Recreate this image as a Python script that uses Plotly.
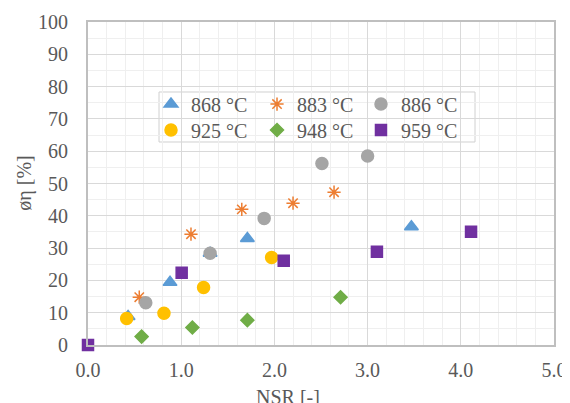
import plotly.graph_objects as go

x_868 = [0.43, 0.88, 1.31, 1.71, 3.47]
y_868 = [8.8, 19.4, 28.4, 33.0, 36.6]
x_883 = [0.55, 1.105, 1.65, 2.20, 2.64]
y_883 = [14.8, 34.3, 42.0, 43.9, 47.3]
x_886 = [0.62, 1.31, 1.89, 2.51, 3.00]
y_886 = [13.1, 28.4, 39.2, 56.2, 58.5]
x_925 = [0.415, 0.815, 1.24, 1.97]
y_925 = [8.2, 9.8, 17.8, 27.1]
x_948 = [0.575, 1.12, 1.71, 2.71]
y_948 = [2.6, 5.4, 7.7, 14.8]
x_959 = [0.0, 1.005, 2.10, 3.10, 4.11]
y_959 = [0.0, 22.4, 26.1, 28.9, 35.1]

series = [
    ("868 °C", x_868, y_868, "triangle-up", "#5B9BD5", 12),
    ("883 °C", x_883, y_883, "asterisk-open", "#ED7D31", 11),
    ("886 °C", x_886, y_886, "circle", "#A5A5A5", 12),
    ("925 °C", x_925, y_925, "circle", "#FFC000", 12),
    ("948 °C", x_948, y_948, "diamond", "#70AD47", 10),
    ("959 °C", x_959, y_959, "square", "#7030A0", 11),
]

leg_x = [0.1352, 0.3627, 0.5858]
leg_y = [0.746, 0.6656]

font = dict(family="Liberation Serif", size=20, color="#595959")

fig = go.Figure()
layout_legends = {}
for i, (name, xs, ys, sym, col, sz) in enumerate(series):
    lname = "legend" if i == 0 else f"legend{i+1}"
    fig.add_trace(go.Scatter(
        x=xs, y=ys, mode="markers", name=name, legend=lname,
        cliponaxis=False,
        marker=dict(symbol=sym, color=col, size=sz,
                    line=dict(color=col, width=1.5)),
    ))
    layout_legends[lname] = dict(
        x=leg_x[i % 3], y=leg_y[i // 3], xanchor="left", yanchor="middle",
        bgcolor="rgba(0,0,0,0)", borderwidth=0, font=font,
    )

fig.update_layout(
    width=570, height=403,
    margin=dict(l=80, r=24, t=14, b=66),
    paper_bgcolor="white", plot_bgcolor="white",
    font=font,
    showlegend=True,
    xaxis=dict(
        range=[0, 5], dtick=1, tickformat=".1f", automargin=False,
        showgrid=True, gridcolor="#d9d9d9", gridwidth=1,
        minor=dict(dtick=0.2, showgrid=True, gridcolor="#efefef", gridwidth=1),
        showline=True, linecolor="#bfbfbf", linewidth=2, mirror=True,
        zeroline=False, ticks="", tickfont=font, ticklabelstandoff=6,
    ),
    yaxis=dict(
        range=[0, 100], dtick=10, automargin=False,
        showgrid=True, gridcolor="#d9d9d9", gridwidth=1,
        minor=dict(dtick=5, showgrid=True, gridcolor="#efefef", gridwidth=1),
        showline=True, linecolor="#bfbfbf", linewidth=2, mirror=True,
        zeroline=False, ticks="", tickfont=font, ticklabelstandoff=14,
    ),
    shapes=[dict(
        type="rect", xref="paper", yref="paper",
        x0=0.1524, x1=0.8305, y0=0.6285, y1=0.7833,
        fillcolor="white", line=dict(color="#d0d0d0", width=1),
        layer="between",
    )],
    annotations=[
        dict(text="NSR [-]", xref="paper", yref="paper", x=0.429, y=-0.12,
             xanchor="center", yanchor="top", showarrow=False, font=font),
        dict(text="øη [%]", xref="paper", yref="paper", x=-0.137, y=0.5,
             xanchor="center", yanchor="middle", textangle=-90,
             showarrow=False, font=font),
    ],
    **layout_legends,
)

fig.write_html("out.html")
